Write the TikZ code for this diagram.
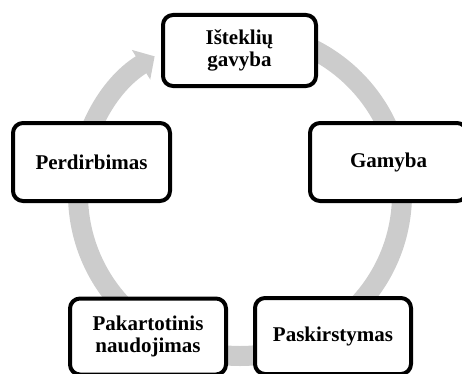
\documentclass[tikz,border=0pt]{standalone}
\usepackage{fontspec}
\setmainfont{Liberation Serif}
\usetikzlibrary{arrows.meta}
\definecolor{ringgray}{RGB}{204,204,204}

\begin{document}
\begin{tikzpicture}[x=1pt, y=1pt, line join=round,
  stage/.style={draw=black, line width=4pt, fill=white, rounded corners=10pt,
    align=center, inner sep=0pt, minimum width=156pt, minimum height=76pt,
    font=\fontsize{21}{22}\selectfont\bfseries},
  ringarrow/.style={draw=ringgray, line width=20pt,
    -{Triangle[width=34pt, length=16pt]}}]
\useasboundingbox (0,0) rectangle (462,373);
\coordinate (hub) at (240,179);
\draw[ringarrow] (hub) ++(90:162pt) arc[start angle=90, end angle=-238.2, radius=162pt];
\node[stage, minimum width=153pt, minimum height=71pt] (gavyba) at (239.5,322.5) {Išteklių\\gavyba};
\node[stage, minimum width=157pt, minimum height=78pt] (gamyba) at (388.5,211) {Gamyba};
\node[stage] (paskirstymas) at (333,37) {Paskirstymas};
\node[stage] (pakartotinis) at (148,36.5) {Pakartotinis\\naudojimas};
\node[stage, minimum width=157pt, minimum height=78pt] (perdirbimas) at (91.5,211) {Perdirbimas};
\end{tikzpicture}
\end{document}
